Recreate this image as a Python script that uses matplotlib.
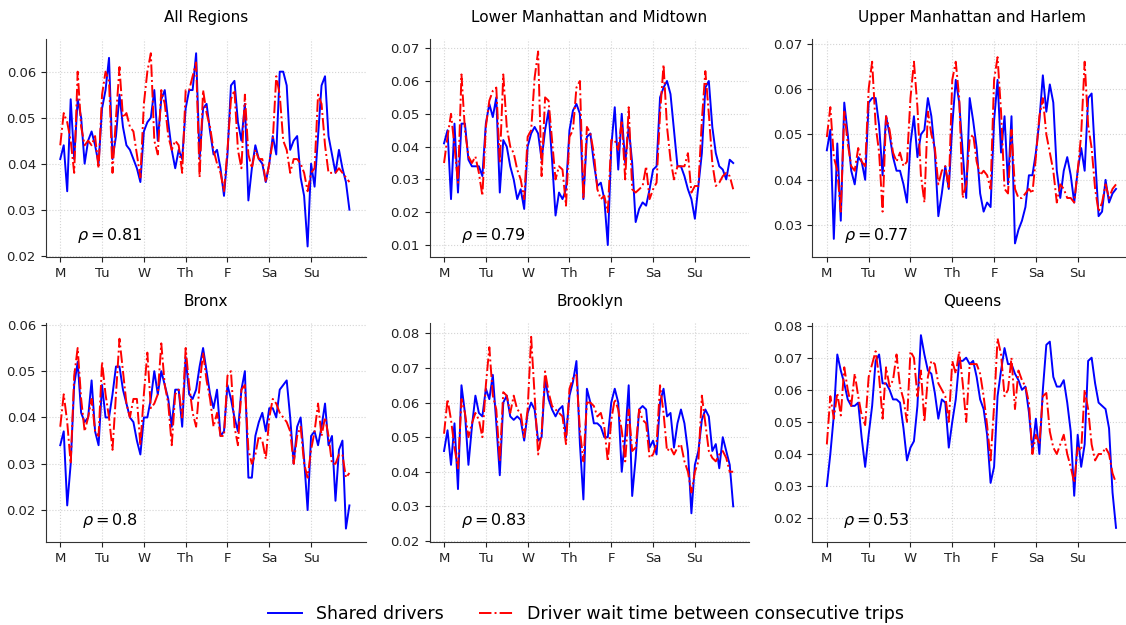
import matplotlib
matplotlib.use("Agg")
import matplotlib.pyplot as plt
from matplotlib.ticker import MultipleLocator
from matplotlib.lines import Line2D

# ---------------- data ----------------
hours = list(range(0, 168, 2))
day_ticks = [0, 24, 48, 72, 96, 120, 144]
day_labels = ['M', 'Tu', 'W', 'Th', 'F', 'Sa', 'Su']

titles = ['All Regions', 'Lower Manhattan and Midtown', 'Upper Manhattan and Harlem',
          'Bronx', 'Brooklyn', 'Queens']
rhos = ['0.81', '0.79', '0.77', '0.8', '0.83', '0.53']

all_shared = [0.041, 0.044, 0.034, 0.054, 0.041, 0.054, 0.050, 0.040, 0.045, 0.047,
              0.044, 0.040, 0.052, 0.056, 0.063, 0.041, 0.046, 0.055, 0.048, 0.044,
              0.043, 0.041, 0.039, 0.036, 0.047, 0.049, 0.050, 0.056, 0.045, 0.054,
              0.056, 0.049, 0.043, 0.039, 0.043, 0.041, 0.052, 0.056, 0.056, 0.064,
              0.041, 0.052, 0.053, 0.047, 0.042, 0.043, 0.039, 0.033, 0.042, 0.057,
              0.058, 0.049, 0.045, 0.053, 0.032, 0.039, 0.044, 0.041, 0.040, 0.036,
              0.040, 0.046, 0.042, 0.060, 0.060, 0.057, 0.043, 0.045, 0.046, 0.037,
              0.033, 0.022, 0.040, 0.035, 0.046, 0.057, 0.059, 0.046, 0.042, 0.038,
              0.043, 0.039, 0.036, 0.030]
all_wait = [0.044, 0.051, 0.049, 0.045, 0.038, 0.060, 0.048, 0.044, 0.045, 0.044,
            0.046, 0.039, 0.055, 0.060, 0.058, 0.038, 0.050, 0.061, 0.050, 0.051,
            0.048, 0.047, 0.042, 0.037, 0.053, 0.060, 0.064, 0.045, 0.042, 0.056,
            0.053, 0.046, 0.043, 0.045, 0.044, 0.038, 0.056, 0.056, 0.059, 0.062,
            0.037, 0.056, 0.051, 0.048, 0.043, 0.040, 0.038, 0.034, 0.043, 0.054,
            0.056, 0.043, 0.039, 0.055, 0.042, 0.039, 0.043, 0.041, 0.041, 0.036,
            0.040, 0.045, 0.059, 0.055, 0.045, 0.043, 0.038, 0.041, 0.041, 0.040,
            0.038, 0.034, 0.038, 0.039, 0.055, 0.053, 0.044, 0.038, 0.038, 0.038,
            0.039, 0.038, 0.037, 0.036]

lmm_shared = [0.041, 0.045, 0.024, 0.047, 0.026, 0.047, 0.047, 0.036, 0.034, 0.034,
              0.034, 0.031, 0.047, 0.053, 0.049, 0.055, 0.026, 0.042, 0.040, 0.034,
              0.030, 0.024, 0.027, 0.021, 0.040, 0.044, 0.046, 0.044, 0.036, 0.045,
              0.051, 0.036, 0.019, 0.026, 0.024, 0.027, 0.045, 0.051, 0.053, 0.050,
              0.024, 0.043, 0.044, 0.035, 0.028, 0.029, 0.024, 0.010, 0.040, 0.052,
              0.033, 0.050, 0.035, 0.046, 0.035, 0.017, 0.021, 0.023, 0.022, 0.027,
              0.033, 0.034, 0.055, 0.058, 0.060, 0.056, 0.045, 0.034, 0.034, 0.031,
              0.027, 0.024, 0.018, 0.028, 0.038, 0.058, 0.060, 0.046, 0.038, 0.034,
              0.033, 0.030, 0.036, 0.035]
lmm_wait = [0.035, 0.043, 0.050, 0.040, 0.029, 0.062, 0.045, 0.037, 0.035, 0.037,
            0.032, 0.025, 0.046, 0.054, 0.057, 0.058, 0.035, 0.062, 0.046, 0.040,
            0.038, 0.033, 0.030, 0.024, 0.043, 0.045, 0.061, 0.069, 0.031, 0.055,
            0.054, 0.042, 0.030, 0.034, 0.033, 0.022, 0.043, 0.045, 0.058, 0.060,
            0.024, 0.046, 0.044, 0.038, 0.027, 0.024, 0.025, 0.020, 0.042, 0.042,
            0.039, 0.048, 0.030, 0.052, 0.027, 0.026, 0.027, 0.028, 0.034, 0.024,
            0.027, 0.029, 0.050, 0.065, 0.046, 0.036, 0.030, 0.034, 0.034, 0.034,
            0.038, 0.026, 0.028, 0.028, 0.048, 0.063, 0.050, 0.035, 0.028, 0.029,
            0.031, 0.032, 0.031, 0.027]

umh_shared = [0.0465, 0.051, 0.027, 0.048, 0.031, 0.057, 0.050, 0.042, 0.039, 0.045,
              0.044, 0.040, 0.057, 0.058, 0.058, 0.052, 0.041, 0.054, 0.050, 0.045,
              0.042, 0.042, 0.039, 0.035, 0.048, 0.054, 0.045, 0.050, 0.051, 0.058,
              0.054, 0.046, 0.032, 0.037, 0.043, 0.038, 0.052, 0.062, 0.057, 0.046,
              0.036, 0.058, 0.053, 0.047, 0.037, 0.033, 0.035, 0.034, 0.053, 0.062,
              0.046, 0.054, 0.039, 0.054, 0.026, 0.029, 0.031, 0.034, 0.041, 0.041,
              0.046, 0.053, 0.063, 0.055, 0.061, 0.057, 0.042, 0.036, 0.042, 0.045,
              0.041, 0.035, 0.042, 0.047, 0.042, 0.058, 0.059, 0.045, 0.032, 0.033,
              0.040, 0.035, 0.037, 0.038]
umh_wait = [0.0494, 0.056, 0.045, 0.042, 0.033, 0.055, 0.048, 0.043, 0.042, 0.047,
            0.044, 0.043, 0.060, 0.066, 0.052, 0.046, 0.033, 0.054, 0.051, 0.046,
            0.044, 0.046, 0.043, 0.044, 0.058, 0.066, 0.056, 0.041, 0.035, 0.055,
            0.050, 0.047, 0.039, 0.042, 0.043, 0.038, 0.062, 0.066, 0.058, 0.036,
            0.039, 0.049, 0.050, 0.044, 0.041, 0.042, 0.041, 0.038, 0.062, 0.067,
            0.055, 0.038, 0.037, 0.051, 0.038, 0.036, 0.036, 0.037, 0.038, 0.037,
            0.045, 0.054, 0.058, 0.050, 0.046, 0.042, 0.035, 0.039, 0.038, 0.036,
            0.036, 0.035, 0.042, 0.050, 0.066, 0.052, 0.047, 0.038, 0.033, 0.035,
            0.039, 0.036, 0.038, 0.039]

bronx_shared = [0.034, 0.037, 0.021, 0.030, 0.047, 0.052, 0.041, 0.039, 0.040, 0.048,
                0.037, 0.034, 0.047, 0.040, 0.040, 0.045, 0.051, 0.051, 0.046, 0.043,
                0.040, 0.039, 0.035, 0.032, 0.040, 0.040, 0.044, 0.050, 0.045, 0.050,
                0.047, 0.044, 0.038, 0.046, 0.046, 0.038, 0.053, 0.045, 0.044, 0.046,
                0.051, 0.055, 0.050, 0.045, 0.042, 0.046, 0.036, 0.037, 0.047, 0.044,
                0.040, 0.037, 0.046, 0.050, 0.027, 0.027, 0.036, 0.039, 0.041, 0.037,
                0.042, 0.042, 0.040, 0.046, 0.047, 0.048, 0.040, 0.030, 0.038, 0.040,
                0.031, 0.020, 0.036, 0.037, 0.034, 0.038, 0.043, 0.034, 0.036, 0.022,
                0.033, 0.035, 0.016, 0.021]
bronx_wait = [0.038, 0.045, 0.039, 0.030, 0.049, 0.055, 0.044, 0.037, 0.040, 0.044,
              0.037, 0.036, 0.052, 0.045, 0.040, 0.033, 0.045, 0.057, 0.050, 0.043,
              0.040, 0.044, 0.044, 0.034, 0.045, 0.054, 0.042, 0.043, 0.045, 0.056,
              0.047, 0.043, 0.034, 0.045, 0.046, 0.040, 0.055, 0.047, 0.041, 0.038,
              0.047, 0.054, 0.048, 0.044, 0.038, 0.041, 0.036, 0.036, 0.049, 0.050,
              0.038, 0.034, 0.046, 0.047, 0.033, 0.030, 0.032, 0.036, 0.035, 0.031,
              0.040, 0.044, 0.043, 0.041, 0.040, 0.039, 0.037, 0.030, 0.036, 0.038,
              0.030, 0.027, 0.033, 0.037, 0.043, 0.036, 0.040, 0.036, 0.030, 0.030,
              0.032, 0.032, 0.027, 0.028]

brooklyn_shared = [0.046, 0.052, 0.042, 0.054, 0.035, 0.065, 0.057, 0.042, 0.053, 0.062,
                   0.057, 0.056, 0.064, 0.061, 0.068, 0.054, 0.039, 0.060, 0.062, 0.056,
                   0.055, 0.056, 0.055, 0.049, 0.057, 0.060, 0.058, 0.049, 0.050, 0.067,
                   0.061, 0.058, 0.056, 0.058, 0.059, 0.050, 0.062, 0.066, 0.072, 0.048,
                   0.032, 0.064, 0.060, 0.054, 0.054, 0.053, 0.050, 0.050, 0.060, 0.064,
                   0.060, 0.040, 0.050, 0.065, 0.033, 0.044, 0.058, 0.059, 0.058, 0.047,
                   0.049, 0.045, 0.060, 0.064, 0.056, 0.057, 0.047, 0.054, 0.058, 0.054,
                   0.046, 0.028, 0.042, 0.046, 0.055, 0.058, 0.056, 0.046, 0.048, 0.041,
                   0.050, 0.046, 0.042, 0.030]
brooklyn_wait = [0.051, 0.061, 0.055, 0.047, 0.041, 0.061, 0.057, 0.050, 0.054, 0.057,
                 0.055, 0.050, 0.065, 0.076, 0.062, 0.058, 0.043, 0.063, 0.062, 0.057,
                 0.062, 0.058, 0.057, 0.050, 0.058, 0.079, 0.062, 0.045, 0.051, 0.069,
                 0.063, 0.059, 0.058, 0.057, 0.056, 0.048, 0.064, 0.067, 0.068, 0.052,
                 0.043, 0.060, 0.060, 0.059, 0.056, 0.057, 0.053, 0.043, 0.055, 0.061,
                 0.058, 0.052, 0.043, 0.058, 0.046, 0.047, 0.058, 0.055, 0.054, 0.044,
                 0.045, 0.048, 0.065, 0.057, 0.046, 0.047, 0.045, 0.047, 0.048, 0.043,
                 0.040, 0.034, 0.040, 0.043, 0.062, 0.054, 0.046, 0.044, 0.043, 0.045,
                 0.046, 0.044, 0.040, 0.040]

queens_shared = [0.030, 0.040, 0.052, 0.071, 0.066, 0.062, 0.057, 0.055, 0.055, 0.056,
                 0.045, 0.036, 0.046, 0.055, 0.069, 0.071, 0.062, 0.062, 0.060, 0.057,
                 0.057, 0.056, 0.048, 0.038, 0.042, 0.044, 0.055, 0.077, 0.071, 0.066,
                 0.065, 0.059, 0.051, 0.057, 0.056, 0.042, 0.050, 0.057, 0.069, 0.069,
                 0.070, 0.068, 0.069, 0.064, 0.057, 0.054, 0.046, 0.031, 0.036, 0.058,
                 0.066, 0.073, 0.068, 0.068, 0.065, 0.063, 0.060, 0.061, 0.053, 0.041,
                 0.051, 0.040, 0.060, 0.074, 0.075, 0.064, 0.061, 0.061, 0.063, 0.056,
                 0.047, 0.027, 0.046, 0.036, 0.043, 0.069, 0.070, 0.062, 0.056, 0.055,
                 0.054, 0.048, 0.028, 0.017]
queens_wait = [0.043, 0.058, 0.051, 0.059, 0.052, 0.067, 0.060, 0.055, 0.065, 0.058,
               0.052, 0.049, 0.064, 0.068, 0.072, 0.064, 0.051, 0.067, 0.061, 0.063,
               0.071, 0.061, 0.057, 0.050, 0.072, 0.070, 0.058, 0.066, 0.050, 0.064,
               0.069, 0.068, 0.062, 0.060, 0.058, 0.050, 0.069, 0.065, 0.072, 0.062,
               0.050, 0.068, 0.068, 0.068, 0.065, 0.058, 0.049, 0.038, 0.055, 0.076,
               0.071, 0.058, 0.060, 0.070, 0.054, 0.066, 0.063, 0.061, 0.056, 0.040,
               0.046, 0.043, 0.058, 0.059, 0.047, 0.042, 0.040, 0.043, 0.046, 0.040,
               0.036, 0.031, 0.042, 0.041, 0.060, 0.054, 0.043, 0.038, 0.040, 0.040,
               0.042, 0.040, 0.034, 0.031]

shared_series = [all_shared, lmm_shared, umh_shared, bronx_shared, brooklyn_shared, queens_shared]
wait_series = [all_wait, lmm_wait, umh_wait, bronx_wait, brooklyn_wait, queens_wait]
ylims = [(0.0196, 0.0671), (0.0062, 0.0728), (0.0229, 0.0710),
         (0.0131, 0.0604), (0.0197, 0.0830), (0.0126, 0.0808)]

# ---------------- layout ----------------
W, H = 1126, 625
fig = plt.figure(figsize=(W / 100, H / 100), dpi=100)
lefts = [45.7, 429.5, 812.3]
width = 320
rows = [(39, 257.5), (323, 542)]

for i in range(6):
    r, c = divmod(i, 3)
    top, bot = rows[r]
    ax = fig.add_axes([lefts[c] / W, 1 - bot / H, width / W, (bot - top) / H])
    ax.plot(hours, shared_series[i], color='blue', linewidth=1.4, zorder=3)
    ax.plot(hours, wait_series[i], color='red', linestyle='-.', linewidth=1.4, zorder=4)
    ax.set_xlim(-8.35, 175.35)
    ax.set_ylim(*ylims[i])
    ax.yaxis.set_major_locator(MultipleLocator(0.01))
    ax.set_xticks(day_ticks)
    ax.set_xticklabels(day_labels)
    ax.tick_params(labelsize=9.5, colors='#222222', length=3.5)
    ax.grid(True, linestyle=':', color='#d4d4d4', linewidth=0.8, zorder=0)
    for s in ['top', 'right']:
        ax.spines[s].set_visible(False)
    for s in ['left', 'bottom']:
        ax.spines[s].set_color('#333333')
    ax.set_title(titles[i], fontsize=11, pad=12)
    ax.text(0.2, 0.1, r'$\rho = %s$' % rhos[i], transform=ax.transAxes,
            ha='center', va='center', fontsize=11.5)

handles = [Line2D([], [], color='blue', linewidth=1.4),
           Line2D([], [], color='red', linestyle='-.', linewidth=1.4)]
fig.legend(handles, ['Shared drivers', 'Driver wait time between consecutive trips'],
           loc='center', bbox_to_anchor=(586 / W, 1 - 614 / H), ncol=2,
           frameon=False, fontsize=12.5)

fig.savefig('out.png', dpi=100)
